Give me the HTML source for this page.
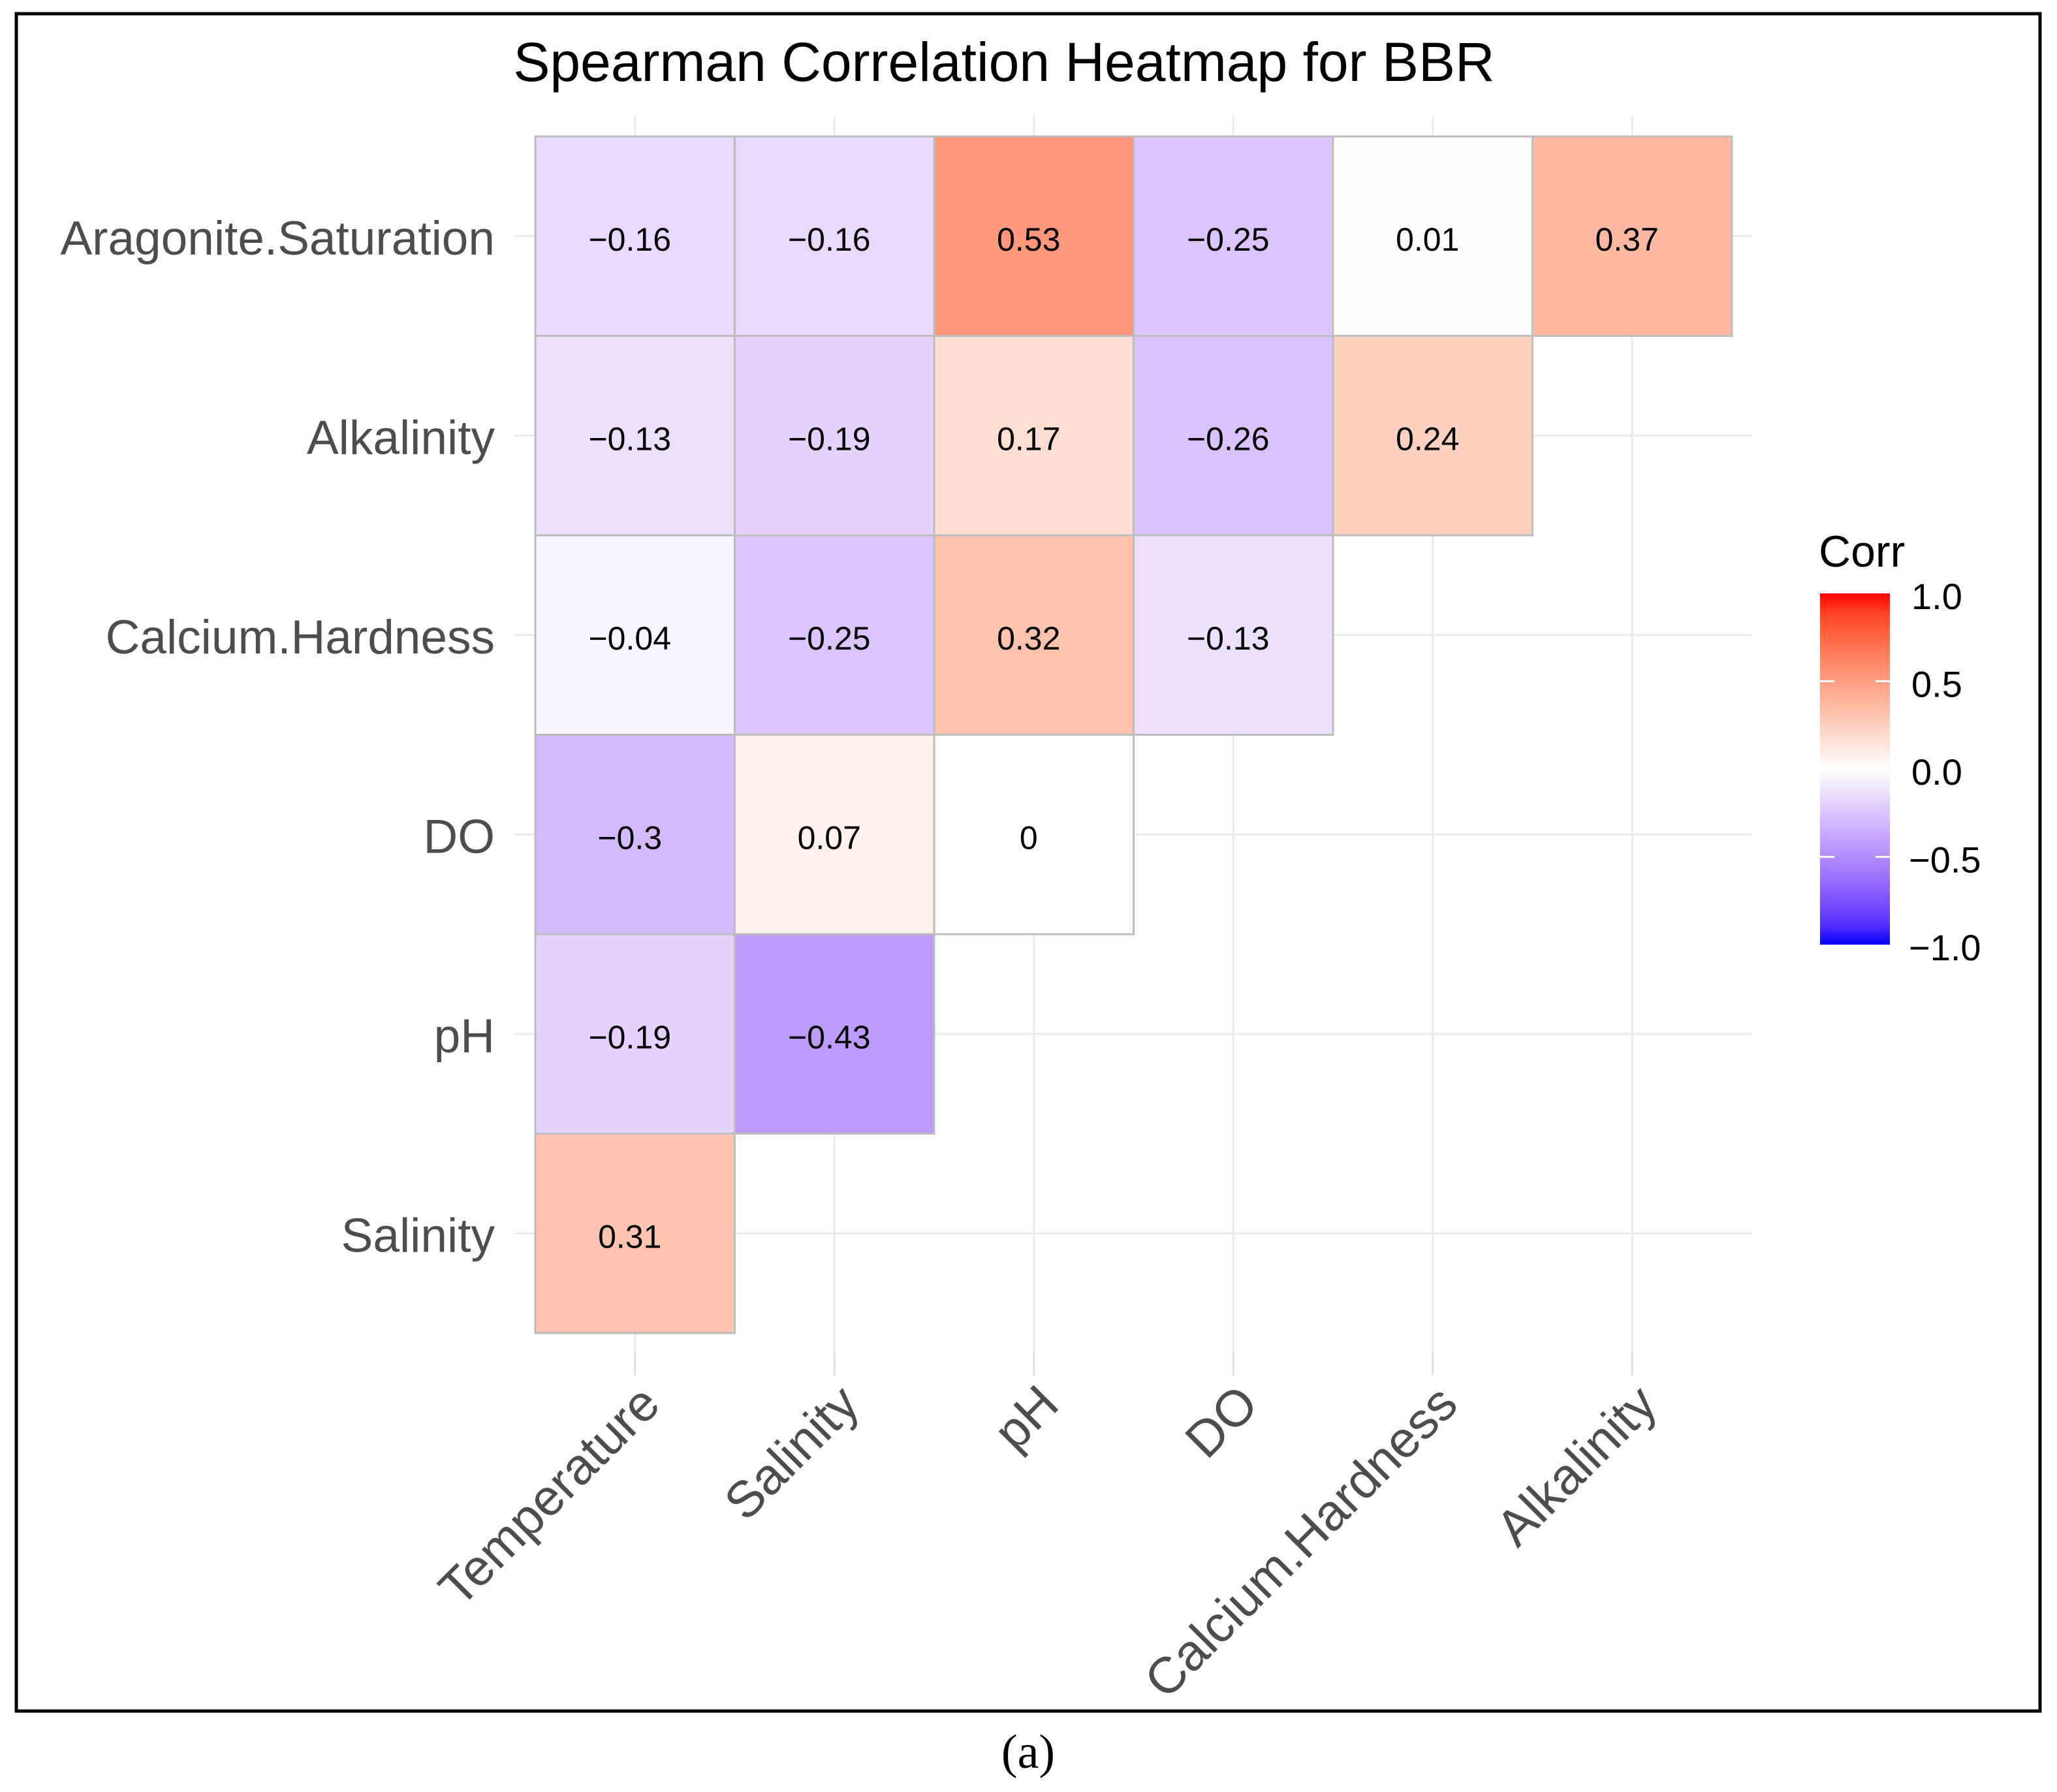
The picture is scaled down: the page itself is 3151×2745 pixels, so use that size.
<!DOCTYPE html>
<html><head><meta charset="utf-8"><style>
html,body{margin:0;padding:0;background:#fff}
svg{display:block}
</style></head><body>
<svg id="chart" width="3151" height="2745" viewBox="0 0 3151 2745" xmlns="http://www.w3.org/2000/svg">
<defs>
<linearGradient id="legendGrad" x1="0" y1="1" x2="0" y2="0"></linearGradient>
</defs>
<rect x="25" y="21" width="3100" height="2600" fill="#fff" stroke="#000" stroke-width="5"/>
<text x="1538" y="124" font-family="Liberation Sans, sans-serif" font-size="84" text-anchor="middle" fill="#000">Spearman Correlation Heatmap for BBR</text>
<g id="grid"></g>
<g id="cells"></g>
<g id="yaxis"></g>
<g id="xaxis"></g>
<g id="legend"></g>
<text x="1575" y="2708" font-family="Liberation Serif, serif" font-size="74" text-anchor="middle" fill="#000">(a)</text>
</svg>
<script>
const xCategories = ["Temperature","Salinity","pH","DO","Calcium.Hardness","Alkalinity"];
const yCategories = ["Aragonite.Saturation","Alkalinity","Calcium.Hardness","DO","pH","Salinity"];
// lower-triangle correlation values; row = yCategories, col = xCategories (null = empty)
const row0 = [-0.16,-0.16,0.53,-0.25,0.01,0.37];
const row1 = [-0.13,-0.19,0.17,-0.26,0.24,null];
const row2 = [-0.04,-0.25,0.32,-0.13,null,null];
const row3 = [-0.3,0.07,0,null,null,null];
const row4 = [-0.19,-0.43,null,null,null,null];
const row5 = [0.31,null,null,null,null,null];
const corrRows = [row0,row1,row2,row3,row4,row5];
const legendTicks = [1.0,0.5,0.0,-0.5,-1.0];
const legendTickLabels = ["1.0","0.5","0.0","\u22120.5","\u22121.0"];

const NS="http://www.w3.org/2000/svg";
function mk(tag,attrs,parent){const e=document.createElementNS(NS,tag);for(const k in attrs)e.setAttribute(k,attrs[k]);parent.appendChild(e);return e;}

const x0=820, cw=305.5, y0=209, ch=305.5;
function xPos(i){return x0+i*cw;}
function yPos(j){return y0+j*ch;}
function fmt(v){if(v===0)return "0";let s=String(v);return v<0?"\u2212"+s.slice(1):s;}

function srgbToLin(c){c/=255;return c<=0.04045?c/12.92:Math.pow((c+0.055)/1.055,2.4);}
function linToSrgb(c){c=c<=0.0031308?12.92*c:1.055*Math.pow(c,1/2.4)-0.055;return Math.max(0,Math.min(255,Math.round(c*255)));}
function rgb2lab(r,g,b){r=srgbToLin(r);g=srgbToLin(g);b=srgbToLin(b);
 let X=(r*0.4124+g*0.3576+b*0.1805)/0.95047,Y=(r*0.2126+g*0.7152+b*0.0722),Z=(r*0.0193+g*0.1192+b*0.9505)/1.08883;
 const f=t=>t>0.008856?Math.cbrt(t):7.787*t+16/116;X=f(X);Y=f(Y);Z=f(Z);return [116*Y-16,500*(X-Y),200*(Y-Z)];}
function lab2rgb(L,a,b){let Y=(L+16)/116,X=a/500+Y,Z=Y-b/200;const fi=t=>t*t*t>0.008856?t*t*t:(t-16/116)/7.787;
 X=fi(X)*0.95047;Y=fi(Y);Z=fi(Z)*1.08883;
 const r=X*3.2406+Y*-1.5372+Z*-0.4986,g=X*-0.9689+Y*1.8758+Z*0.0415,bb=X*0.0557+Y*-0.2040+Z*1.0570;
 return "rgb("+linToSrgb(r)+","+linToSrgb(g)+","+linToSrgb(bb)+")";}
const LW=rgb2lab(255,255,255),LR=rgb2lab(255,0,0),LB=rgb2lab(0,0,255);
function color(v){const t=Math.min(1,Math.abs(v));const e=v>=0?LR:LB;return lab2rgb(LW[0]+(e[0]-LW[0])*t,LW[1]+(e[1]-LW[1])*t,LW[2]+(e[2]-LW[2])*t);}

const grid=document.getElementById('grid');
xCategories.forEach((c,i)=>{const cx=xPos(i)+cw/2;
 const l=mk('line',{x1:cx,y1:177,x2:cx,y2:2072,stroke:'#ebebeb','stroke-width':3},grid);
 
 const t=mk('line',{x1:cx,y1:2072,x2:cx,y2:2107,stroke:'#e0e0e0','stroke-width':3},grid);
 });
yCategories.forEach((c,j)=>{const cy=yPos(j)+ch/2;
 const l=mk('line',{x1:788,y1:cy,x2:2683,y2:cy,stroke:'#ebebeb','stroke-width':3},grid);
 });

const cells=document.getElementById('cells');
corrRows.forEach((row,j)=>row.forEach((v,i)=>{if(v===null)return;
 const r=mk('rect',{x:xPos(i),y:yPos(j),width:cw,height:ch,fill:color(v),stroke:'#bdbdbd','stroke-width':3},cells);
 
 
 const t=mk('text',{x:xPos(i)+cw/2-8,y:yPos(j)+ch/2+22,'font-family':'Liberation Sans, sans-serif','font-size':50,'text-anchor':'middle',fill:'#000'},cells);
 t.textContent=fmt(v);
 
 }));

const ya=document.getElementById('yaxis');
yCategories.forEach((c,j)=>{const t=mk('text',{x:758,y:yPos(j)+ch/2+28,'font-family':'Liberation Sans, sans-serif','font-size':73,'text-anchor':'end',fill:'#4d4d4d'},ya);
 t.textContent=c;});

const xa=document.getElementById('xaxis');
xCategories.forEach((c,i)=>{const ax=xPos(i)+cw/2+42, ay=2155;
 const t=mk('text',{x:ax,y:ay,transform:'rotate(-45 '+ax+' '+ay+')','font-family':'Liberation Sans, sans-serif','font-size':78,'text-anchor':'end',fill:'#4d4d4d'},xa);
 t.textContent=c;});

const grad=document.getElementById('legendGrad');
for(let k=0;k<=20;k++){const v=-1+k/10;mk('stop',{offset:(k/20),'stop-color':color(v)},grad);}
const lg=document.getElementById('legend');
const lx=2788,lw=107,ltop=909,lbot=1447;
function ly(v){return lbot-(v+1)/2*(lbot-ltop);}
const ttl=mk('text',{x:2786,y:868,'font-family':'Liberation Sans, sans-serif','font-size':68,fill:'#000'},lg);
ttl.textContent='Corr';
const bar=mk('rect',{x:lx,y:ltop,width:lw,height:lbot-ltop,fill:'url(#legendGrad)'},lg);

legendTicks.forEach((v,k)=>{const y=ly(v);
 if(Math.abs(v)<1){[lx,lx+lw-22].forEach(xx=>{const tk=mk('line',{x1:xx,y1:y,x2:xx+22,y2:y,stroke:'#fff','stroke-width':3},lg);
  });}
 const t=mk('text',{x:legendTickLabels[k].startsWith('\u2212')?2924:2928,y:y+24,'font-family':'Liberation Sans, sans-serif','font-size':56,fill:'#000'},lg);
 t.textContent=legendTickLabels[k];});
</script>
</body></html>
